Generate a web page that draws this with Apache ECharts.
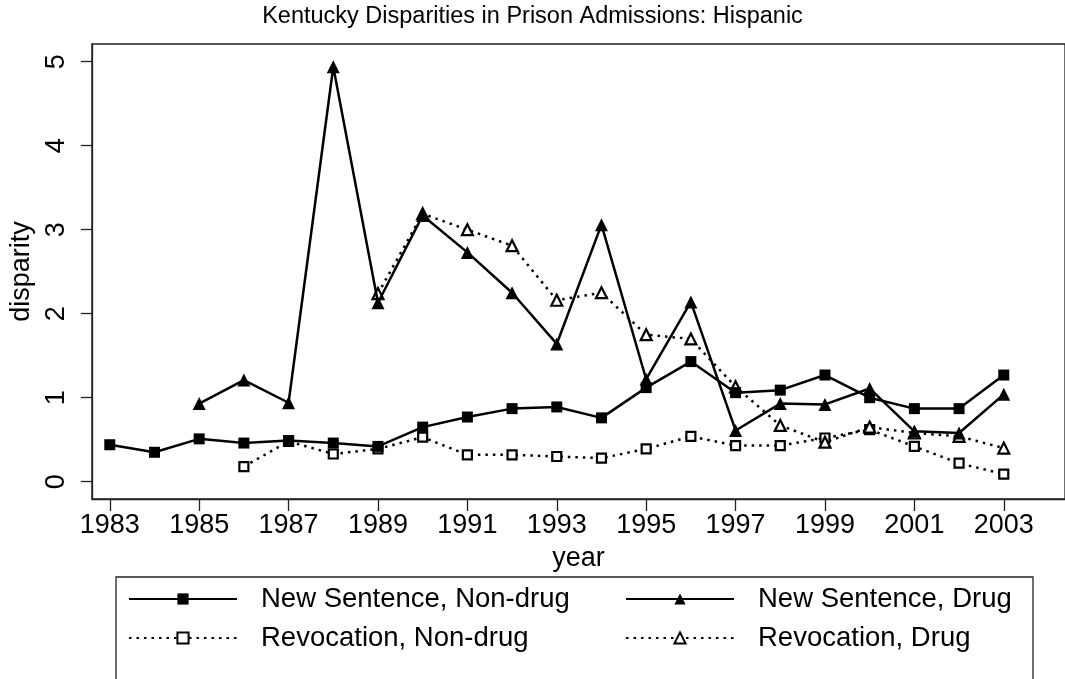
<!DOCTYPE html>
<html>
<head>
<meta charset="utf-8">
<script src="https://cdn.jsdelivr.net/npm/echarts@6/dist/echarts.min.js"></script>
<style>html,body{margin:0;padding:0;background:#fff;}#c{width:1065px;height:679px;}</style>
</head>
<body>
<div id="c"></div>
<script>
const years = [1983,1984,1985,1986,1987,1988,1989,1990,1991,1992,1993,1994,1995,1996,1997,1998,1999,2000,2001,2002,2003];
const newNonDrug = [0.44,0.35,0.51,0.46,0.49,0.46,0.42,0.65,0.77,0.87,0.89,0.76,1.12,1.43,1.06,1.09,1.27,1.00,0.87,0.87,1.27];
const newDrug = [null,null,0.93,1.21,0.94,4.94,2.13,3.17,2.73,2.25,1.64,3.06,1.22,2.14,0.61,0.93,0.92,1.11,0.60,0.58,1.04];
const revNonDrug = [null,null,null,0.18,0.48,0.33,0.39,0.53,0.32,0.32,0.30,0.28,0.39,0.54,0.43,0.43,0.52,0.62,0.42,0.22,0.09];
const revDrug = [null,null,null,null,null,null,2.24,3.19,3.00,2.81,2.16,2.25,1.75,1.70,1.13,0.67,0.47,0.65,0.58,0.54,0.40];
const xTicks = [1983,1985,1987,1989,1991,1993,1995,1997,1999,2001,2003];
const yTicks = [0,1,2,3,4,5];
const seriesNames = ['New Sentence, Non-drug','New Sentence, Drug','Revocation, Non-drug','Revocation, Drug'];

function pairs(vals){
  const out = [];
  years.forEach((y,i)=>{ if (vals[i] !== null) out.push([y, vals[i]]); });
  return out;
}
const FONT = "'Liberation Sans', Arial, sans-serif";
const chart = echarts.init(document.getElementById('c'), null, {renderer:'canvas'});
const solid = {color:'#000', width:2.5, type:'solid'};
const dotted = {color:'#000', width:2.5, type:[2.5,5]};
const legendText = {fontFamily:FONT, fontSize:27.5, color:'#000', width:340, padding:[0,0,0,19], lineHeight:30};
chart.setOption({
  animation:false,
  backgroundColor:'#fff',
  title:{text:'Kentucky Disparities in Prison Admissions: Hispanic', left:'center', top:0,
    textStyle:{fontFamily:FONT, fontSize:23.5, fontWeight:'normal', color:'#000'}},
  grid:{left:84, top:44, right:-5, bottom:180, show:true, borderColor:'#222', borderWidth:1.3, backgroundColor:'#fff'},
  xAxis:{type:'value', min:1982.6, max:2004.37, name:'year', nameLocation:'middle', nameGap:46,
    nameTextStyle:{fontFamily:FONT, fontSize:27, color:'#000'},
    axisLine:{show:true, onZero:false, lineStyle:{color:'#222', width:1.3}},
    axisTick:{show:true, length:12, customValues:xTicks, lineStyle:{color:'#222', width:1.3}},
    axisLabel:{customValues:xTicks, margin:13, fontFamily:FONT, fontSize:27, color:'#000', formatter:v=>String(v)},
    splitLine:{show:false}},
  yAxis:{type:'value', min:-0.206, max:5.211, name:'disparity', nameLocation:'middle', nameGap:45,
    nameTextStyle:{fontFamily:FONT, fontSize:27, color:'#000'},
    axisLine:{show:true, onZero:false, lineStyle:{color:'#222', width:1.3}},
    axisTick:{show:true, length:11, customValues:yTicks, lineStyle:{color:'#222', width:1.3}},
    axisLabel:{customValues:yTicks, rotate:90, margin:22, fontFamily:FONT, fontSize:27, color:'#000'},
    splitLine:{show:false}},
  legend:[
    {data:[seriesNames[0],seriesNames[1]], left:128, top:584, orient:'horizontal', width:1000, padding:0,
     itemWidth:108, itemHeight:14, itemGap:24, textStyle:legendText, selectedMode:false},
    {data:[seriesNames[2],seriesNames[3]], left:128, top:623, orient:'horizontal', width:1000, padding:0,
     itemWidth:108, itemHeight:14, itemGap:24, textStyle:legendText, selectedMode:false}
  ],
  graphic:[{type:'rect', shape:{x:116, y:577, width:917, height:150}, style:{fill:'none', stroke:'#222', lineWidth:1.3}, silent:true}],
  series:[
    {name:seriesNames[2], type:'line', data:pairs(revNonDrug), symbol:'rect', symbolSize:9,
     lineStyle:dotted, itemStyle:{color:'#fff', borderColor:'#000', borderWidth:2.2}, z:2},
    {name:seriesNames[3], type:'line', data:pairs(revDrug), symbol:'triangle', symbolSize:11,
     lineStyle:dotted, itemStyle:{color:'#fff', borderColor:'#000', borderWidth:2.2}, z:2},
    {name:seriesNames[0], type:'line', data:pairs(newNonDrug), symbol:'rect', symbolSize:11,
     lineStyle:solid, itemStyle:{color:'#000', borderColor:'#000', borderWidth:0}, z:3},
    {name:seriesNames[1], type:'line', data:pairs(newDrug), symbol:'triangle', symbolSize:13,
     lineStyle:solid, itemStyle:{color:'#000', borderColor:'#000', borderWidth:0}, z:3}
  ]
});
</script>
</body>
</html>
